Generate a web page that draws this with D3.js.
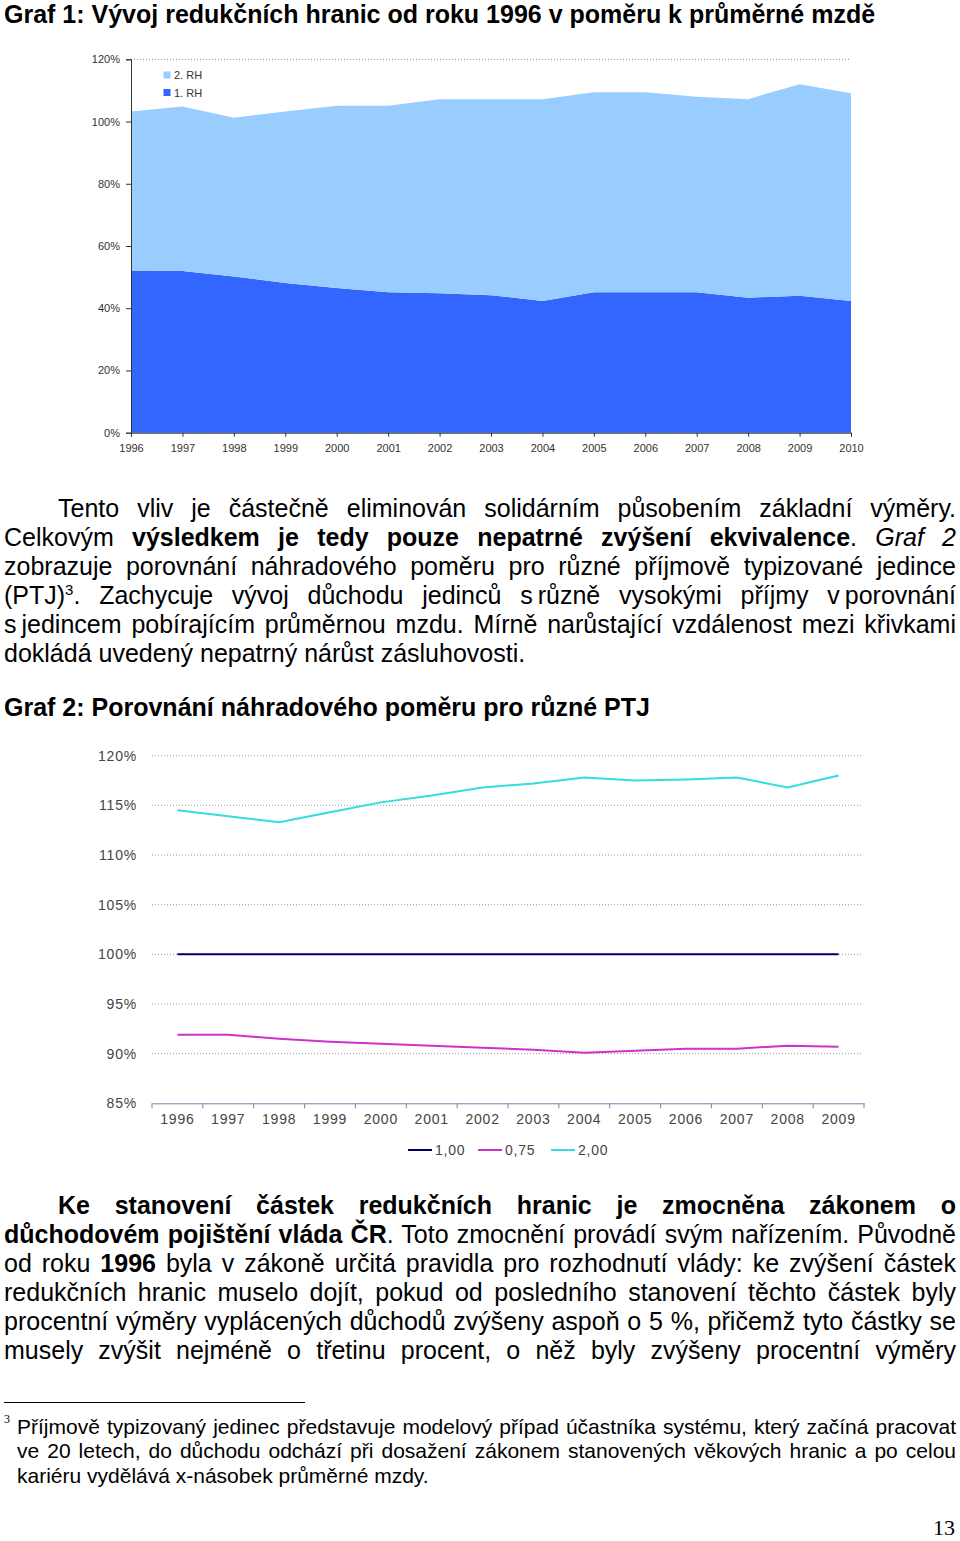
<!DOCTYPE html>
<html><head><meta charset="utf-8">
<script src="https://cdn.jsdelivr.net/npm/d3@7"></script>
<style>
body{margin:0;background:#fff;}
#page{position:relative;width:960px;height:1541px;overflow:hidden;font-family:"Liberation Sans",Arial,sans-serif;color:#000;}
svg{position:absolute;left:0;top:0;}
.ln{position:absolute;left:4px;width:952px;font-size:25px;line-height:29px;white-space:nowrap;}
.j{text-align:justify;text-align-last:justify;white-space:normal;}
.b{font-weight:bold;}
.fn{position:absolute;left:17px;width:939px;font-size:21px;line-height:24px;white-space:nowrap;}
sup{font-size:15px;line-height:0;}
</style></head>
<body><div id="page"><svg id="chart" width="960" height="1541"></svg></div>
<script>
// ---- Chart 1 data ----
const years1 = ["1996","1997","1998","1999","2000","2001","2002","2003","2004","2005","2006","2007","2008","2009","2010"];
const rh1 = [52.1, 52.0, 50.2, 48.1, 46.5, 45.1, 44.8, 44.2, 42.3, 45.1, 45.1, 45.1, 43.4, 44.0, 42.3];
const rh2 = [51.1, 52.8, 51.0, 55.1, 58.6, 60.0, 62.4, 63.0, 64.9, 64.3, 64.3, 62.9, 63.8, 68.0, 66.8];
const yTicks1 = [0, 20, 40, 60, 80, 100, 120];
// ---- Chart 2 data ----
const years2 = ["1996","1997","1998","1999","2000","2001","2002","2003","2004","2005","2006","2007","2008","2009"];
const s100 = [100, 100, 100, 100, 100, 100, 100, 100, 100, 100, 100, 100, 100, 100];
const s075 = [91.9, 91.9, 91.5, 91.2, 91.0, 90.8, 90.6, 90.4, 90.1, 90.3, 90.5, 90.5, 90.8, 90.7];
const s200 = [114.5, 113.9, 113.3, 114.3, 115.3, 116.0, 116.8, 117.2, 117.8, 117.5, 117.6, 117.8, 116.8, 118.0];
const yTicks2 = [85, 90, 95, 100, 105, 110, 115, 120];
const series2 = [
  {name:"1,00", values:s100, color:"#000066"},
  {name:"0,75", values:s075, color:"#cc33cc"},
  {name:"2,00", values:s200, color:"#33dddd"}
];

const svg = d3.select("#chart");

// ===== Chart 1 =====
const x1 = d3.scalePoint().domain(years1).range([131, 851]);
const y1 = d3.scaleLinear().domain([0, 120]).range([432.7, 59.3]);
const g1 = svg.append("g");
g1.append("line").attr("x1",131).attr("x2",851).attr("y1",y1(120)).attr("y2",y1(120))
  .attr("stroke","#888").attr("stroke-dasharray","1,2");
const rows = years1.map((y,i)=>({year:y, r1:rh1[i], r2:rh2[i]}));
const stack = d3.stack().keys(["r1","r2"])(rows);
const area1 = d3.area().x(d=>x1(d.data.year)).y0(d=>y1(d[0])).y1(d=>y1(d[1]));
const cols1 = {r1:"#3366ff", r2:"#99ccff"};
g1.selectAll("path.ar").data(stack).join("path").attr("class","ar")
  .attr("d", area1).attr("fill", d=>cols1[d.key]);
const ay1 = g1.append("g").attr("transform","translate(131,0)")
  .call(d3.axisLeft(y1).tickValues(yTicks1).tickFormat(d=>d+"%").tickSize(5).tickPadding(6));
const ax1 = g1.append("g").attr("transform","translate(0,432.7)")
  .call(d3.axisBottom(x1).tickSize(4).tickPadding(8));
[ay1, ax1].forEach(a=>{
  a.selectAll("text").attr("font-family","Liberation Sans, Arial").attr("font-size","11px").attr("fill","#333");
  a.selectAll("line,path").attr("stroke","#333");
});
// legend 1
const leg1 = [{k:"2. RH", c:cols1.r2, y:75}, {k:"1. RH", c:cols1.r1, y:92.5}];
leg1.forEach(l=>{
  g1.append("rect").attr("x",163.5).attr("y",l.y-3.5).attr("width",7).attr("height",7).attr("fill",l.c);
  g1.append("text").attr("x",174).attr("y",l.y+4).text(l.k)
    .attr("font-family","Liberation Sans, Arial").attr("font-size","11px").attr("fill","#333");
});

// ===== Chart 2 =====
const x2 = d3.scaleBand().domain(years2).range([152, 864]);
const y2 = d3.scaleLinear().domain([85, 120]).range([1103.3, 755.7]);
const g2 = svg.append("g");
yTicks2.filter(t=>t>85).forEach(t=>{
  g2.append("line").attr("x1",152).attr("x2",862).attr("y1",y2(t)).attr("y2",y2(t))
    .attr("stroke","#999").attr("stroke-dasharray","1,2");
});
const ay2 = g2.append("g").attr("transform","translate(152,0)")
  .call(d3.axisLeft(y2).tickValues(yTicks2).tickFormat(d=>d+"%").tickSize(0).tickPadding(15));
ay2.select(".domain").remove();
const ax2 = g2.append("g").attr("transform",`translate(0,${y2(85)})`)
  .call(d3.axisBottom(x2).tickSize(0).tickPadding(11));
ax2.select(".domain").attr("stroke","#8080a8");
const edges = years2.map(d=>x2(d)).concat([x2.range()[1]]);
edges.forEach(e=>{
  g2.append("line").attr("x1",e).attr("x2",e).attr("y1",y2(85)).attr("y2",y2(85)+5).attr("stroke","#8080a8");
});
[ay2, ax2].forEach(a=>{
  a.selectAll("text").attr("font-family","Liberation Sans, Arial").attr("font-size","14px")
    .attr("letter-spacing","0.8px").attr("fill","#444");
});
const line2 = d3.line().x((d,i)=>x2(years2[i]) + x2.bandwidth()/2).y(d=>y2(d));
series2.forEach(s=>{
  g2.append("path").attr("d", line2(s.values)).attr("fill","none").attr("stroke",s.color).attr("stroke-width",2);
});
// legend 2
const legX = [408, 478, 551];
series2.forEach((s,i)=>{
  g2.append("line").attr("x1",legX[i]).attr("x2",legX[i]+24).attr("y1",1150).attr("y2",1150)
    .attr("stroke",s.color).attr("stroke-width",2);
  g2.append("text").attr("x",legX[i]+27).attr("y",1155).text(s.name)
    .attr("font-family","Liberation Sans, Arial").attr("font-size","14px").attr("letter-spacing","0.8px").attr("fill","#444");
});

// footnote rule
svg.append("line").attr("x1",4).attr("x2",305).attr("y1",1402.5).attr("y2",1402.5).attr("stroke","#000").attr("stroke-width",1);
// page number
svg.append("text").attr("x",955).attr("y",1535).attr("text-anchor","end").text("13")
  .attr("font-family","Liberation Serif, Times New Roman, serif").attr("font-size","22px");

// ===== Text =====
const page = d3.select("#page");
function line(cy, html, cls, left){
  const d = page.append("div").attr("class","ln "+(cls||"")).style("top",(cy-14.5)+"px").html(html);
  if(left!==undefined){ d.style("left",left+"px").style("width",(956-left)+"px"); }
}
line(14, "Graf 1: Vývoj redukčních hranic od roku 1996 v poměru k průměrné mzdě", "b");
line(508, "Tento vliv je částečně eliminován solidárním působením základní výměry.", "j", 58);
line(537, "Celkovým <b>výsledkem je tedy pouze nepatrné zvýšení ekvivalence</b>. <i>Graf 2</i>", "j");
line(566, "zobrazuje porovnání náhradového poměru pro různé příjmově typizované jedince", "j");
line(595, "(PTJ)<sup>3</sup>. Zachycuje vývoj důchodu jedinců s&#8239;různě vysokými příjmy v&#8239;porovnání", "j");
line(624, "s&#8239;jedincem pobírajícím průměrnou mzdu. Mírně narůstající vzdálenost mezi křivkami", "j");
line(653, "dokládá uvedený nepatrný nárůst zásluhovosti.", "");
line(707, "Graf 2: Porovnání náhradového poměru pro různé PTJ", "b");
line(1205, "<b>Ke stanovení částek redukčních hranic je zmocněna zákonem o</b>", "j", 58);
line(1234, "<b>důchodovém pojištění vláda ČR</b>. Toto zmocnění provádí svým nařízením. Původně", "j");
line(1263, "od roku <b>1996</b> byla v zákoně určitá pravidla pro rozhodnutí vlády: ke zvýšení částek", "j");
line(1292, "redukčních hranic muselo dojít, pokud od posledního stanovení těchto částek byly", "j");
line(1321, "procentní výměry vyplácených důchodů zvýšeny aspoň o 5 %, přičemž tyto částky se", "j");
line(1350, "musely zvýšit nejméně o třetinu procent, o něž byly zvýšeny procentní výměry", "j");
function fn(cy, html, cls){
  page.append("div").attr("class","fn "+(cls||"")).style("top",(cy-12)+"px").html(html);
}
page.append("div").style("position","absolute").style("left","4px").style("top","1412px")
  .style("font-family","Liberation Serif, Times New Roman, serif").style("font-size","12px").text("3");
fn(1427, "Příjmově typizovaný jedinec představuje modelový případ účastníka systému, který začíná pracovat", "j");
fn(1451, "ve 20 letech, do důchodu odchází při dosažení zákonem stanovených věkových hranic a po celou", "j");
fn(1476, "kariéru vydělává x-násobek průměrné mzdy.", "");
</script></body></html>
